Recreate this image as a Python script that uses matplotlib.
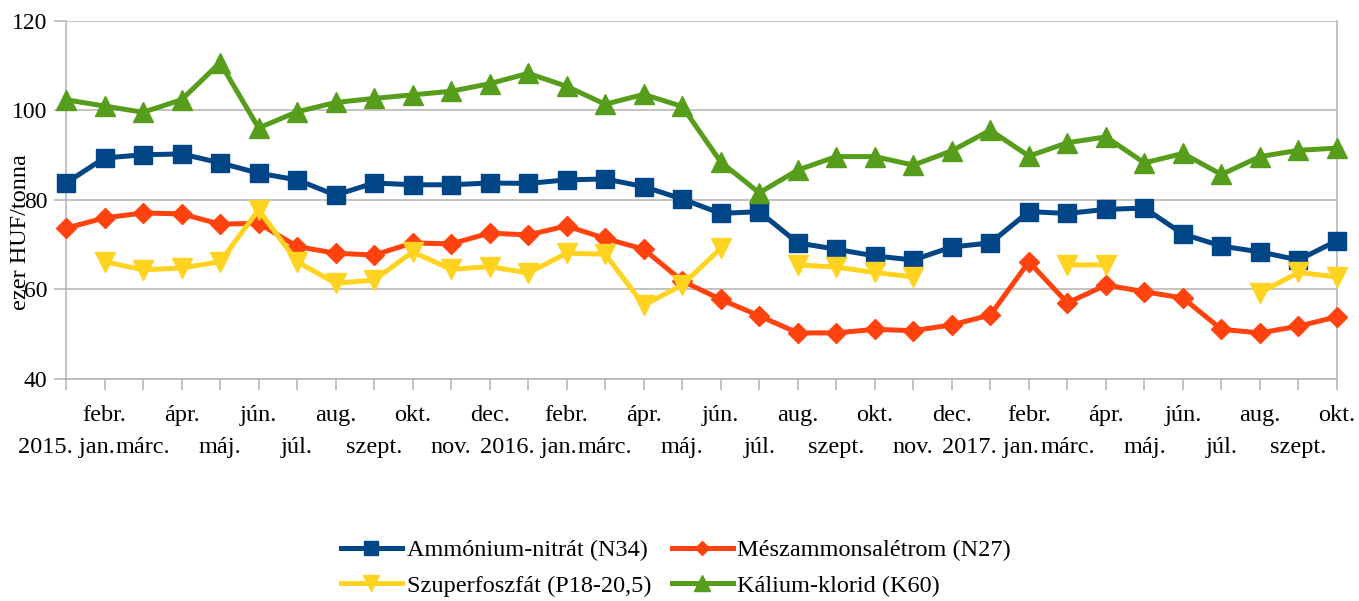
import numpy as np
import matplotlib
matplotlib.use('Agg')
import matplotlib.pyplot as plt

plt.rcParams['font.family'] = ['Liberation Serif', 'DejaVu Serif']

months = ['2015. jan.', 'febr.', 'márc.', 'ápr.', 'máj.', 'jún.', 'júl.', 'aug.', 'szept.', 'okt.', 'nov.', 'dec.',
          '2016. jan.', 'febr.', 'márc.', 'ápr.', 'máj.', 'jún.', 'júl.', 'aug.', 'szept.', 'okt.', 'nov.', 'dec.',
          '2017. jan.', 'febr.', 'márc.', 'ápr.', 'máj.', 'jún.', 'júl.', 'aug.', 'szept.', 'okt.']

n34 = [83.8, 89.4, 90.1, 90.3, 88.3, 86.0, 84.5, 81.1, 83.8, 83.4, 83.4, 83.8,
       83.7, 84.5, 84.7, 83.0, 80.2, 77.0, 77.4, 70.4, 69.0, 67.5, 66.6, 69.5,
       70.4, 77.4, 77.0, 77.9, 78.2, 72.4, 69.7, 68.4, 66.6, 70.9]
n27 = [73.7, 76.0, 77.1, 76.9, 74.6, 74.8, 69.6, 68.1, 67.7, 70.4, 70.2, 72.6,
       72.2, 74.2, 71.4, 69.0, 61.9, 57.8, 54.1, 50.3, 50.3, 51.1, 50.8, 52.1,
       54.3, 66.2, 57.0, 61.0, 59.5, 58.1, 51.1, 50.3, 51.8, 53.9]
p18 = [np.nan, 66.2, 64.4, 64.8, 66.2, 77.8, 66.2, 61.4, 62.1, 68.4, 64.5, 65.1,
       63.7, 68.1, 67.9, 56.5, 61.0, 69.2, np.nan, 65.5, 65.0, 63.8, 62.8, np.nan,
       np.nan, np.nan, 65.5, 65.5, np.nan, np.nan, np.nan, 59.3, 63.8, 62.8]
k60 = [102.4, 101.0, 99.6, 102.4, 110.7, 96.1, 99.7, 101.8, 102.7, 103.5, 104.3, 106.0,
       108.3, 105.4, 101.4, 103.6, 100.9, 88.5, 81.6, 86.7, 89.7, 89.7, 87.8, 91.0,
       95.6, 89.8, 92.8, 94.1, 88.3, 90.4, 85.7, 89.7, 91.1, 91.6]

W, H = 1359, 601
fig = plt.figure(figsize=(W / 100, H / 100), dpi=100)
ax = fig.add_axes([66 / W, (H - 379) / H, (1337 - 66) / W, (379 - 21) / H])

x = np.arange(len(months))
grey = '#b3b3b3'

l1, = ax.plot(x, n34, color='#004586', lw=3.6, marker='s', ms=13, label='Ammónium-nitrát (N34)', clip_on=False, zorder=3)
l2, = ax.plot(x, n27, color='#ff420e', lw=3.6, marker='D', ms=10, label='Mészammonsalétrom (N27)', clip_on=False, zorder=3)
l3, = ax.plot(x, p18, color='#ffd320', lw=3.6, marker='v', ms=15, label='Szuperfoszfát (P18-20,5)', clip_on=False, zorder=3)
l4, = ax.plot(x, k60, color='#579d1c', lw=3.6, marker='^', ms=15, label='Kálium-klorid (K60)', clip_on=False, zorder=3)

ax.set_xlim(0, len(months) - 1)
ax.set_ylim(40, 120)
ax.set_yticks(np.arange(40, 121, 20))
ax.yaxis.grid(True, color=grey, lw=1.1)
ax.set_axisbelow(True)
for s in ['left', 'right', 'bottom', 'top']:
    ax.spines[s].set_color(grey)
    ax.spines[s].set_linewidth(1.1)
ax.spines['top'].set_visible(False)

ax.set_xticks(x)
ax.set_xticklabels([])
ax.tick_params(axis='x', length=8, width=1.1, color=grey)
ax.tick_params(axis='y', length=8.5, width=1.1, color=grey, labelsize=17, pad=5)

tr = ax.get_xaxis_transform()
for i, m in enumerate(months):
    yy = -0.102 if i % 2 == 1 else -0.19
    ax.text(i, yy, m, transform=tr, ha='center', va='center', fontsize=17.5)

fig.text(21 / W, 1 - 232 / H, 'ezer HUF/tonna', rotation=90, ha='center', va='center', fontsize=17.5)

fig.legend([l1, l3, l2, l4], [l.get_label() for l in [l1, l3, l2, l4]], ncol=2, loc='center',
           bbox_to_anchor=(0.4975, 0.055), frameon=False, fontsize=17.5, numpoints=1,
           handlelength=2.5, columnspacing=0.85, labelspacing=0.55, handletextpad=0.2,
           markerscale=0.75)

fig.savefig('out.png', dpi=100)
